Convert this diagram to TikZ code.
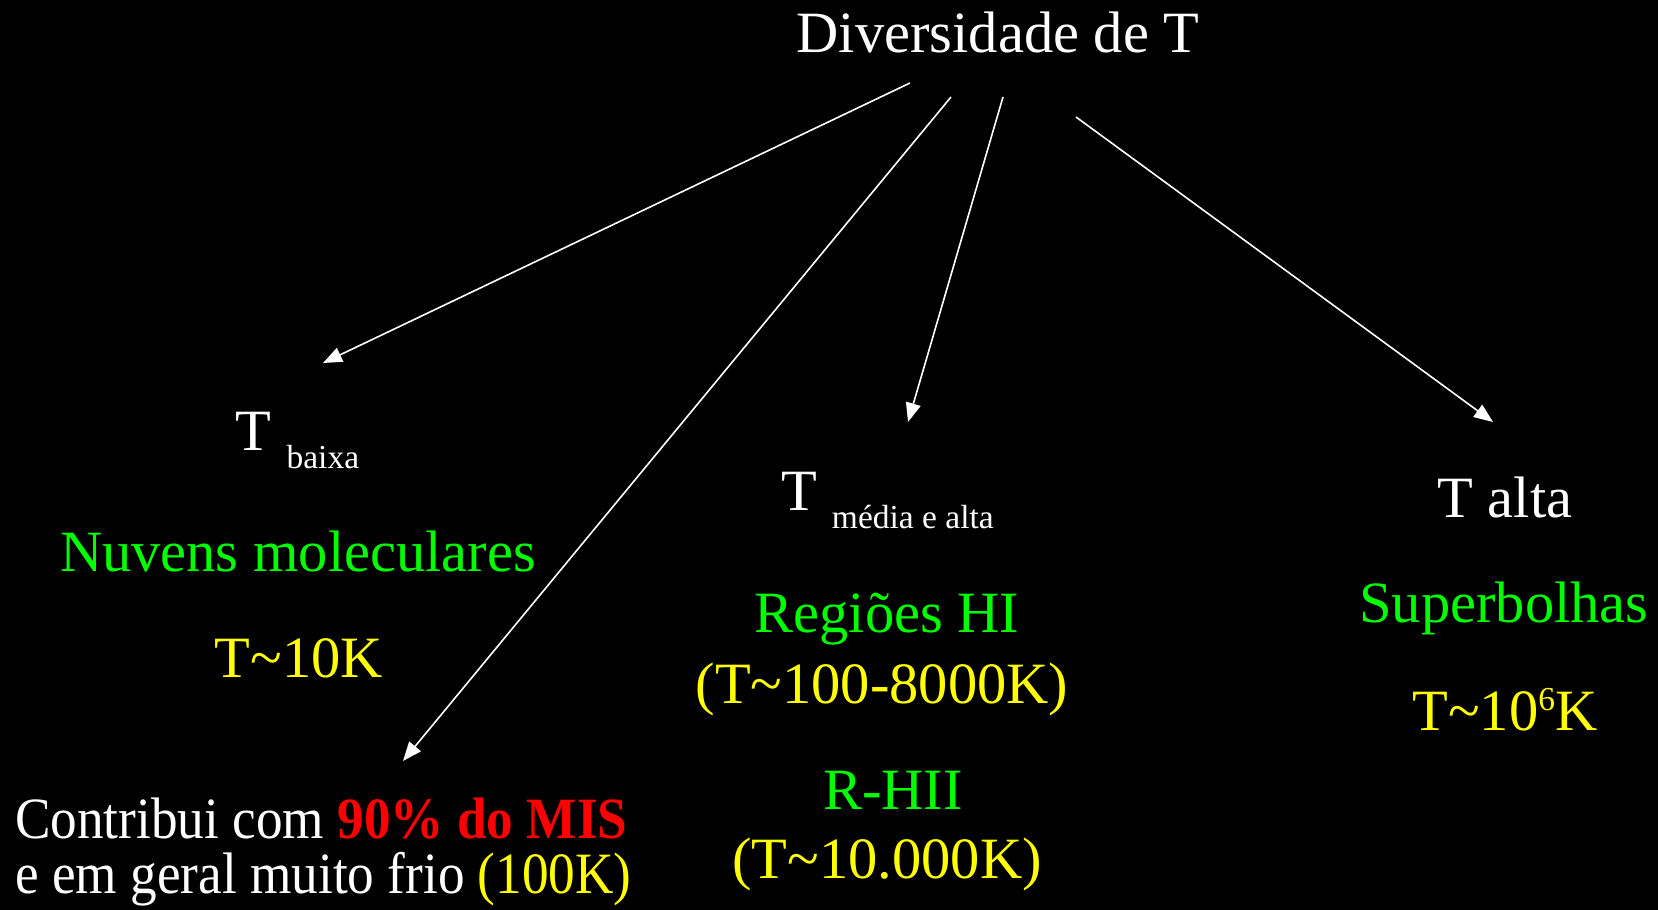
\documentclass[tikz,border=0pt]{standalone}
\usepackage{fontspec}
\setmainfont{Liberation Serif}
\usetikzlibrary{arrows.meta}
\definecolor{lgreen}{RGB}{0,255,0}
\definecolor{lyellow}{RGB}{255,255,0}
\definecolor{lred}{RGB}{255,0,0}
\newcommand{\bigf}{\fontsize{58.5}{70}\selectfont}
\newcommand{\subf}{\fontsize{33.5}{40}\selectfont}
\begin{document}
\begin{tikzpicture}[x=1pt,y=-1pt,
  txt/.style={inner sep=0pt,anchor=base,text=white,font=\bigf},
  link/.style={draw=white,line width=1.6pt,-{Triangle[length=19pt,width=15pt]}}]
\fill[black] (0,0) rectangle (1658,910);
% title
\node[txt] (title) at (998,52) {Diversidade de T};
% column 1
\node[txt] (tbaixa) at (297.5,450) {T\hspace{15pt}\raisebox{-18pt}{\subf baixa}};
\node[txt,text=lgreen] (nuvens) at (298,571) {Nuvens moleculares};
\node[txt,text=lyellow] (t10k) at (299,677) {T\textasciitilde10K};
% column 2
\node[txt] (tmedia) at (887.5,510) {T\hspace{15pt}\raisebox{-18pt}{\subf média e alta}};
\node[txt,text=lgreen] (regioes) at (887,632) {Regiões HI};
\node[txt,text=lyellow] (t100) at (882,703) {(T\textasciitilde100-8000K)};
\node[txt,text=lgreen] (rhii) at (893,809) {R-HII};
\node[txt,text=lyellow] (t10000) at (887,878) {(T\textasciitilde10.000K)};
% column 3
\node[txt] (talta) at (1505,517) {T alta};
\node[txt,text=lgreen] (super) at (1504,622) {Superbolhas};
\node[txt,text=lyellow] (t106) at (1505,730) {T\textasciitilde10\raisebox{20pt}{\subf 6}K};
% bottom
\node[txt,anchor=base west] (contrib) at (15,838) {\scalebox{0.91}[1]{Contribui com \textcolor{lred}{\bfseries 90\% do MIS}}};
\node[txt,anchor=base west] (frio) at (15,893) {\scalebox{0.91}[1]{e em geral muito frio \textcolor{lyellow}{(100K)}}};
% connector coordinates
\coordinate (s1) at (910,83);
\coordinate (e1) at (323,363);
\coordinate (s2) at (951,97);
\coordinate (e2) at (403,761);
\coordinate (s3) at (1003,97);
\coordinate (e3) at (908,422);
\coordinate (s4) at (1076,117);
\coordinate (e4) at (1493,422);
\draw[link] (s1) -- (e1);
\draw[link] (s2) -- (e2);
\draw[link] (s3) -- (e3);
\draw[link] (s4) -- (e4);
\end{tikzpicture}
\end{document}
